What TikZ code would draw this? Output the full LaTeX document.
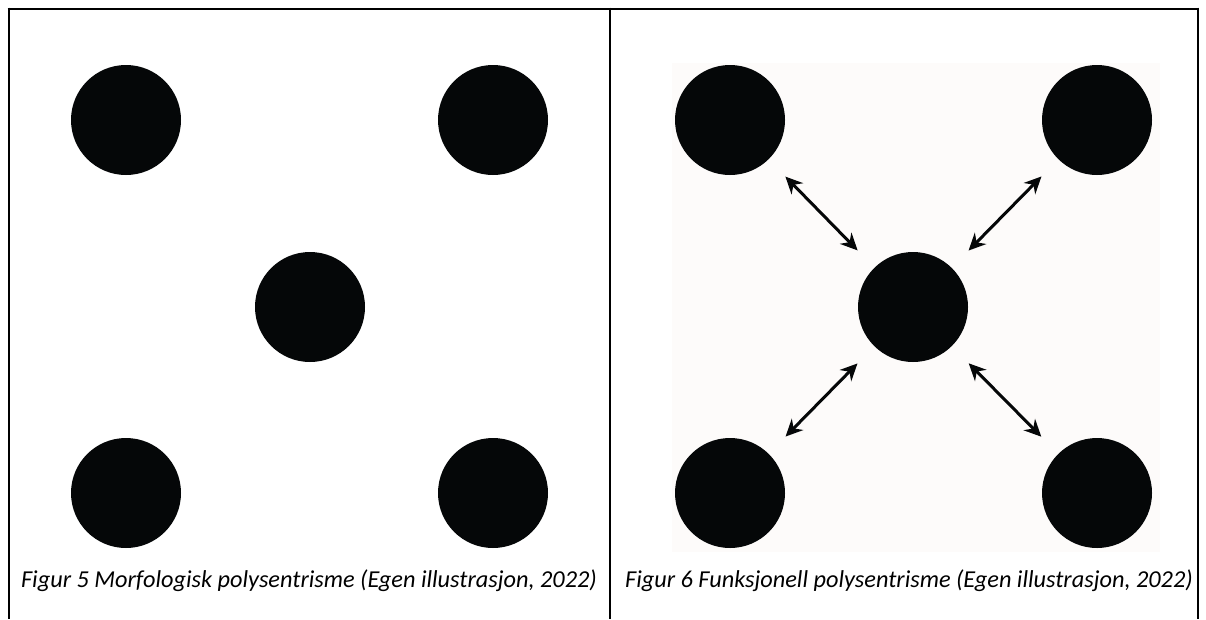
\documentclass[tikz,border=0pt]{standalone}
\usepackage{fontspec}
\setmainfont{Carlito}
\usetikzlibrary{arrows.meta,positioning}
\definecolor{Ink}{HTML}{050708}
\definecolor{PaperSoft}{HTML}{FDFBFA}
\tikzset{
  dot/.style={circle,fill=Ink,inner sep=0pt,minimum size=110pt},
  arr/.style={{Stealth[length=17pt,width=16pt]}-{Stealth[length=17pt,width=16pt]},draw=Ink,line width=3pt,shorten >=24pt,shorten <=24pt},
  rule/.style={draw=black,line width=2.6pt},
  caption/.style={font=\fontsize{24.3}{29}\selectfont\itshape,text=black}
}
\begin{document}
\begin{tikzpicture}[x=1pt,y=-1pt]
  \useasboundingbox (0,0) rectangle (1206,619);
  % table rules
  \draw[rule] (7.7,9) -- (1199.3,9);
  \draw[rule] (9,7.7) -- (9,619);
  \draw[rule] (610,7.7) -- (610,619);
  \draw[rule] (1198,7.7) -- (1198,619);
  % left: morphological
  \node[dot] (mtl) at (126,120) {};
  \node[dot] (mtr) at (493,120) {};
  \node[dot] (mc) at (310,307) {};
  \node[dot] (mbl) at (126,493) {};
  \node[dot] (mbr) at (493,493) {};
  % right: functional
  \fill[PaperSoft] (672,63) rectangle (1160,552);
  \node[dot] (ftl) at (730,120) {};
  \node[dot] (ftr) at (1097,120) {};
  \node[dot] (fc) at (913,307) {};
  \node[dot] (fbl) at (730,493) {};
  \node[dot] (fbr) at (1097,493) {};
  \draw[arr] (ftl) -- (fc);
  \draw[arr] (ftr) -- (fc);
  \draw[arr] (fbl) -- (fc);
  \draw[arr] (fbr) -- (fc);
  % captions
  \node[caption] (capm) at (309,581) {Figur 5 Morfologisk polysentrisme (Egen illustrasjon, 2022)};
  \node[caption] (capf) at (909,581) {Figur 6 Funksjonell polysentrisme (Egen illustrasjon, 2022)};
\end{tikzpicture}
\end{document}
